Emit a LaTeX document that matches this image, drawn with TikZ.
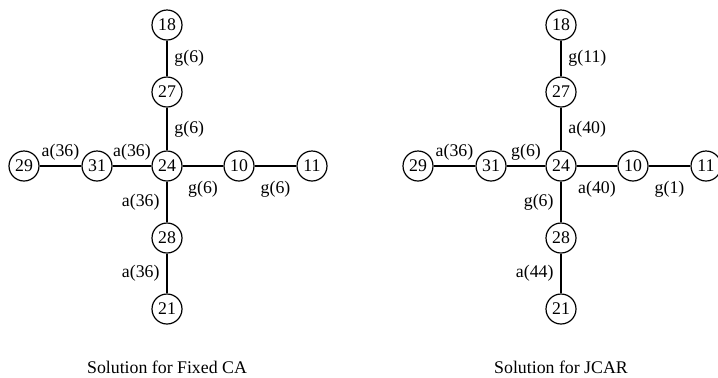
\documentclass[tikz,border=0pt]{standalone}
\usepackage{fontspec}
\setmainfont{Liberation Serif}
\begin{document}
\begin{tikzpicture}[x=0.5pt, y=-0.5pt,
  every node/.style={font=\fontsize{8.9}{10}\selectfont},
  v/.style={circle, draw, line width=0.6pt, minimum size=15pt, inner sep=0pt},
  e/.style={line width=0.8pt}]
\useasboundingbox (0,0) rectangle (718,377);
\foreach \g/\dx in {L/0, R/394}
  \foreach \n/\x/\y in {18/167/25, 27/167/92, 24/167/166, 28/167/238, 21/167/309,
                        31/97/166, 29/24/166, 10/239/166, 11/312/166}
    \node[v] (\g\n) at (\x+\dx,\y) {\n};

\draw[e] (L18) -- node[right]{g(6)} (L27);
\draw[e] (L27) -- node[right]{g(6)} (L24);
\draw[e] (L29) -- node[above, inner sep=2.5pt]{a(36)} (L31);
\draw[e] (L31) -- node[above, inner sep=2.5pt]{a(36)} (L24);
\draw[e] (L24) -- node[below=4pt]{g(6)} (L10);
\draw[e] (L10) -- node[below=4pt]{g(6)} (L11);
\draw[e] (L24) -- node[left]{a(36)} (L28);
\draw[e] (L28) -- node[left]{a(36)} (L21);

\draw[e] (R18) -- node[right]{g(11)} (R27);
\draw[e] (R27) -- node[right]{a(40)} (R24);
\draw[e] (R29) -- node[above, inner sep=2.5pt]{a(36)} (R31);
\draw[e] (R31) -- node[above, inner sep=2.5pt]{g(6)} (R24);
\draw[e] (R24) -- node[below=4pt]{a(40)} (R10);
\draw[e] (R10) -- node[below=4pt]{g(1)} (R11);
\draw[e] (R24) -- node[left]{g(6)} (R28);
\draw[e] (R28) -- node[left]{a(44)} (R21);

\node (capL) at (167,367) {Solution for Fixed CA};
\node (capR) at (561,367) {Solution for JCAR};
\end{tikzpicture}
\end{document}
